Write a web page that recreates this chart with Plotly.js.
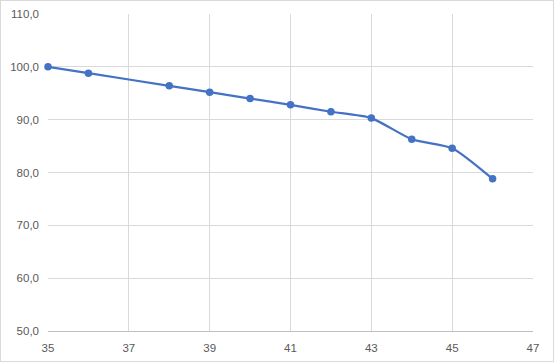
<!DOCTYPE html>
<html><head><meta charset="utf-8">
<script src="https://cdn.plot.ly/plotly-3.0.1.min.js"></script>
<style>html,body{margin:0;padding:0;background:#fff}#c{width:552px;height:360px;border:1px solid #d9d9d9;}</style>
</head><body><div id="c"></div>
<script>
const xValues = [35, 36, 38, 39, 40, 41, 42, 43, 44, 45, 46];
const yValues = [100.0, 98.8, 96.4, 95.2, 94.0, 92.8, 91.5, 90.3, 86.3, 84.6, 78.8];
const xTicks = [35, 37, 39, 41, 43, 45, 47];
const yTicks = [50, 60, 70, 80, 90, 100, 110];

const trace = {
  x: xValues, y: yValues, type: 'scatter', mode: 'lines+markers',
  line: {color: '#4472C4', width: 2.25, shape: 'spline', smoothing: 0.6},
  marker: {color: '#4472C4', size: 7.5},
  cliponaxis: false, hoverinfo: 'none'
};
const font = {family: 'Liberation Sans, Arial, sans-serif', size: 11.5, color: '#595959'};
const layout = {
  width: 552, height: 360,
  margin: {l: 47, r: 20, t: 13, b: 30},
  paper_bgcolor: '#fff', plot_bgcolor: '#fff',
  separators: ',.',
  showlegend: false,
  font: font,
  xaxis: {range: [35, 47], tickvals: xTicks, ticktext: xTicks.map(String),
    showgrid: true, gridcolor: '#d9d9d9', gridwidth: 1, zeroline: false,
    showline: true, linecolor: '#bfbfbf', linewidth: 1, ticks: '', ticklabelstandoff: 6,
    tickfont: font, fixedrange: true},
  yaxis: {range: [50, 110], tickvals: yTicks, tickformat: '.1f',
    showgrid: true, gridcolor: '#d9d9d9', gridwidth: 1, zeroline: false,
    showline: false, ticks: '', ticklabelstandoff: 8,
    tickfont: font, fixedrange: true}
};
Plotly.newPlot('c', [trace], layout, {staticPlot: true, displayModeBar: false});
</script></body></html>
